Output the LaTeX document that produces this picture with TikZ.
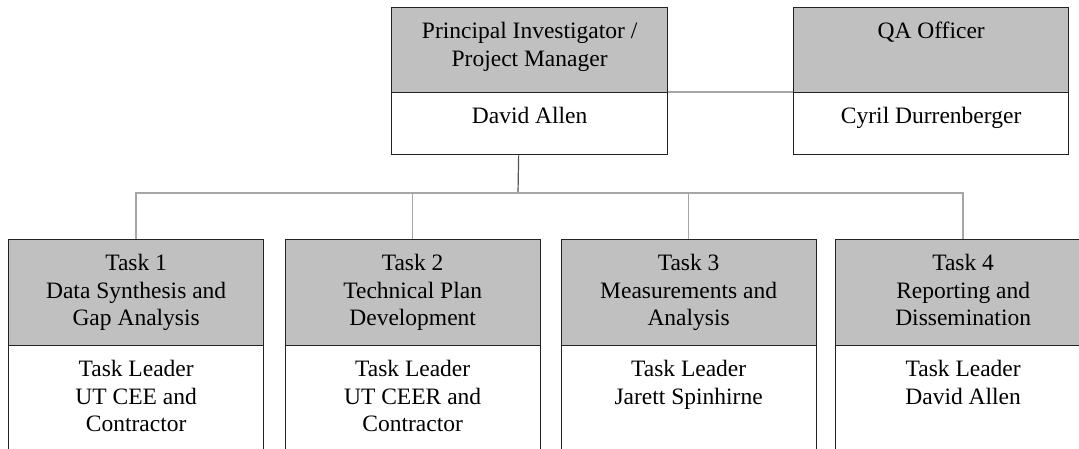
\documentclass[tikz,border=0pt]{standalone}
\usepackage{fontspec}
\setmainfont{Liberation Serif}
\definecolor{hdrgray}{HTML}{C0C0C0}
\definecolor{boxline}{HTML}{222222}
\definecolor{busgray}{HTML}{A6A6A6}
\definecolor{stemgray}{HTML}{555555}
\begin{document}
\begin{tikzpicture}[x=1pt,y=-1pt,
  cell/.style={draw=boxline, line width=1.3pt, inner sep=0pt, anchor=north west},
  hdr/.style={cell, fill=hdrgray},
  body/.style={cell, fill=white},
  lbl/.style={inner sep=0pt, anchor=north, align=center,
    font=\fontsize{23.5}{27.5}\selectfont},
  bus/.style={draw=busgray, line width=1.6pt},
  stem/.style={draw=stemgray, line width=1.2pt}]
\clip (0,0) rectangle (1079,448);
\fill[white] (0,0) rectangle (1079,448);

% connectors (drawn first, boxes sit on top)
\coordinate (bus) at (518,193);

% top row: principal investigator and QA officer
\node[hdr, minimum width=276, minimum height=85] (pih) at (391,7) {};
\node[body, minimum width=276, minimum height=62] (pib) at (391,92) {};
\node[hdr, minimum width=275, minimum height=85] (qah) at (793,7) {};
\node[body, minimum width=275, minimum height=62] (qab) at (793,92) {};

% task row
\foreach \i/\x in {1/8, 2/284.5, 3/560.5, 4/835} {
  \node[hdr, minimum width=255, minimum height=106] (t\i h) at (\x,239) {};
  \node[body, minimum width=255, minimum height=120] (t\i b) at (\x,345) {};
}

% lines between boxes
\draw[bus] ([yshift=1.5pt]pih.south east) -- ([yshift=1.5pt]qah.south west);
\draw[stem] ([xshift=-11pt]pib.south) -- (bus);
\draw[bus] (t1h.north) |- (bus) -| (t4h.north);
\draw[bus] (t2h.north) -- (t2h.north |- bus);
\draw[bus] (t3h.north) -- (t3h.north |- bus);

% labels
\node[lbl] (pit) at ([yshift=-12.5pt]pih.north) {\strut Principal Investigator /\\Project Manager};
\node[lbl] (pin) at ([yshift=-12.5pt]pib.north) {\strut David Allen};
\node[lbl] (qat) at ([yshift=-12.5pt]qah.north) {\strut QA Officer};
\node[lbl] (qan) at ([yshift=-12.5pt]qab.north) {\strut Cyril Durrenberger};

\node[lbl] (t1t) at ([yshift=-12.5pt]t1h.north) {\strut Task 1\\Data Synthesis and\\Gap Analysis};
\node[lbl] (t1n) at ([yshift=-12.5pt]t1b.north) {\strut Task Leader\\UT CEE and\\Contractor};
\node[lbl] (t2t) at ([yshift=-12.5pt]t2h.north) {\strut Task 2\\Technical Plan\\Development};
\node[lbl] (t2n) at ([yshift=-12.5pt]t2b.north) {\strut Task Leader\\UT CEER and\\Contractor};
\node[lbl] (t3t) at ([yshift=-12.5pt]t3h.north) {\strut Task 3\\Measurements and\\Analysis};
\node[lbl] (t3n) at ([yshift=-12.5pt]t3b.north) {\strut Task Leader\\Jarett Spinhirne};
\node[lbl] (t4t) at ([yshift=-12.5pt]t4h.north) {\strut Task 4\\Reporting and\\Dissemination};
\node[lbl] (t4n) at ([yshift=-12.5pt]t4b.north) {\strut Task Leader\\David Allen};
\end{tikzpicture}
\end{document}
